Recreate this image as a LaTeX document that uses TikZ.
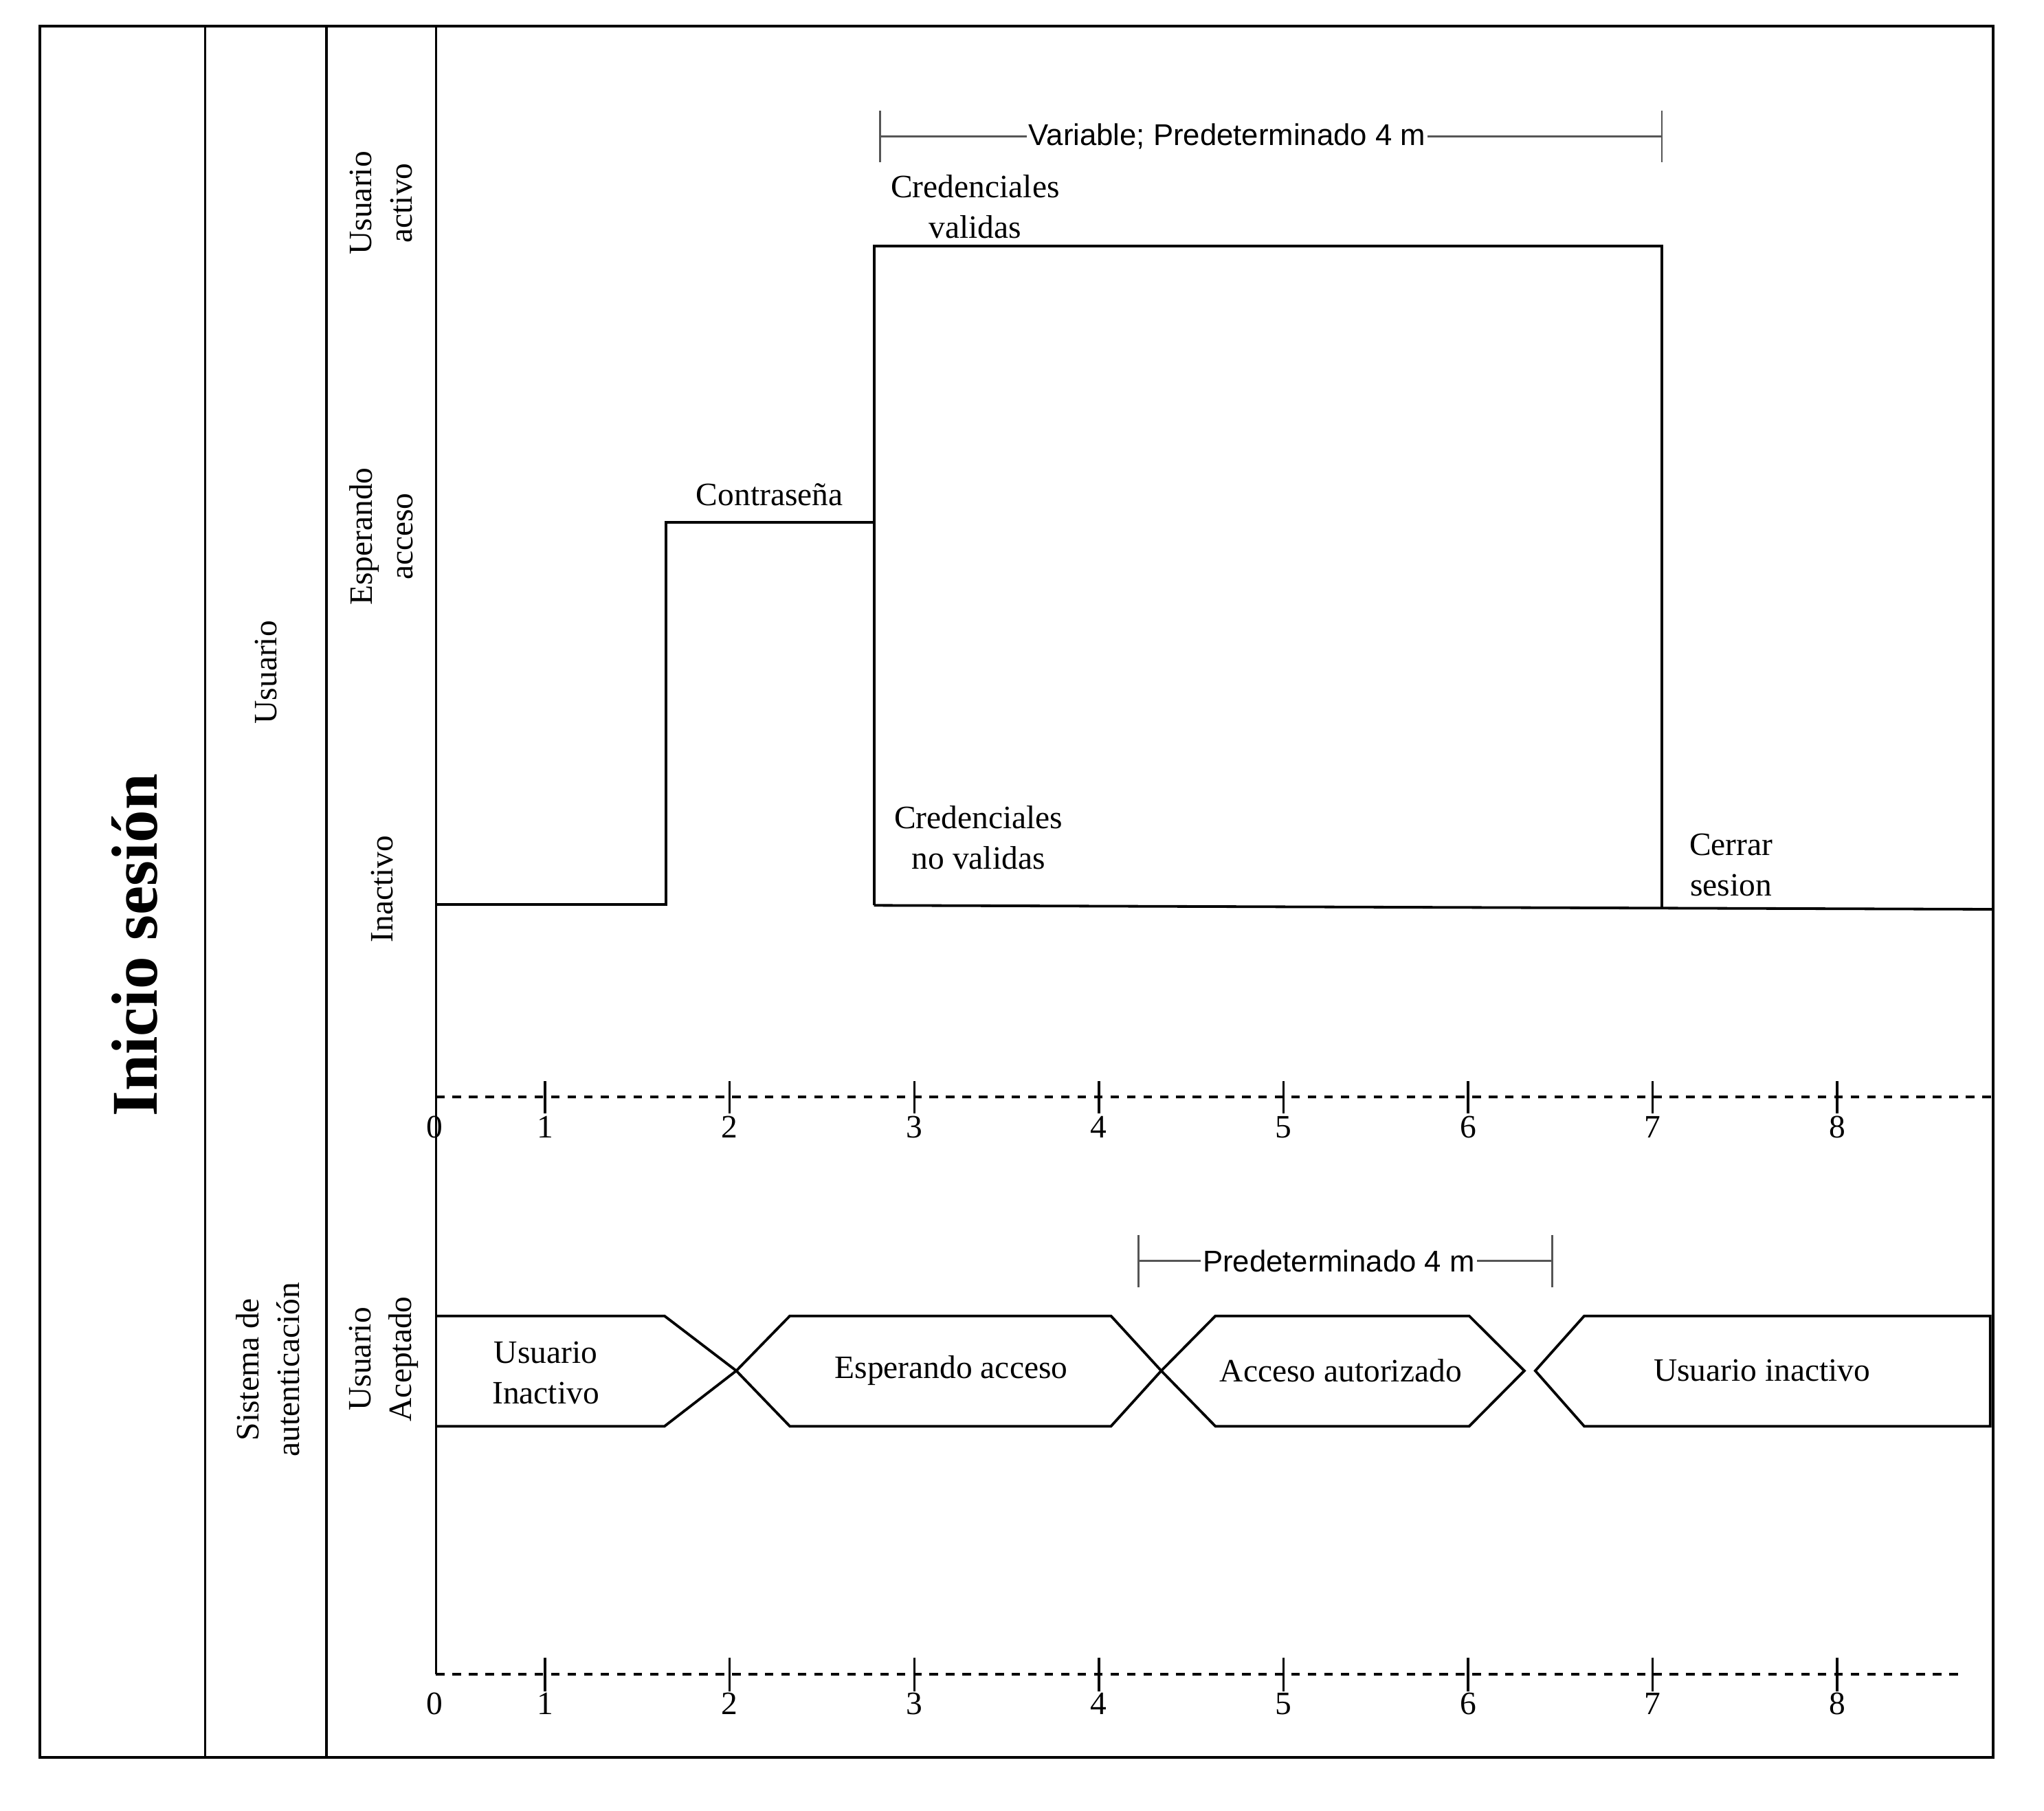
\documentclass[tikz,border=0pt]{standalone}
\usepackage{fontspec}
\setmainfont{Liberation Serif}
\newfontfamily\arialfont{Liberation Sans}
\definecolor{dimgray}{RGB}{85,85,85}
\begin{document}
\begin{tikzpicture}[x=1pt,y=-1pt,
  lbl/.style={font=\fontsize{25}{31}\selectfont, inner sep=0pt, align=center},
  rlbl/.style={lbl, rotate=90},
  title/.style={font=\fontsize{50}{60}\selectfont\bfseries, inner sep=0pt, rotate=90},
  dimlbl/.style={font=\arialfont\fontsize{23}{27}\selectfont, fill=white, inner sep=1.5pt},
  frame/.style={line width=2.1pt},
  col/.style={line width=1.8pt},
  sig/.style={line width=2.0pt, line join=miter},
  axisline/.style={line width=2.1pt, dash pattern=on 6.5pt off 6.1pt},
  tickline/.style={line width=1.8pt},
  dimline/.style={line width=1.5pt, draw=dimgray},
]
\useasboundingbox (0,0) rectangle (1565.7,1387.2);

% frame and columns
\draw[frame] (30.7,20) rectangle (1526.6,1346);
\draw[col] (157,20) -- (157,1346);
\draw[col] (250,20) -- (250,1346);
\coordinate (origT) at (334,840);
\coordinate (origB) at (334,1282.5);
\draw[col] (334,20) -- (origB);

% titles
\node[title] (tit) at (103,724) {Inicio sesión};
\node[rlbl] (usr) at (203.5,515) {Usuario};
\node[rlbl] (sis) at (205,1049) {Sistema de\\autenticación};
\node[rlbl] (lact) at (292,155.5) {Usuario\\activo};
\node[rlbl] (lesp) at (292,411) {Esperando\\acceso};
\node[rlbl] (lina) at (292.5,681) {Inactivo};
\node[rlbl] (lacep) at (294,1041) {Usuario\\Aceptado};

% top axis
\coordinate (axT) at (1526.6,840);
\draw[axisline] (origT) -- (axT);
\node[lbl] (ta0) at (333,863.5) {0};
% bottom axis
\coordinate (axB) at (1503,1282.5);
\draw[axisline] (origB) -- (axB);
\node[lbl] (ba0) at (333,1305) {0};
\foreach \n in {1,...,8} {
  \pgfmathsetmacro\xx{417.5+(\n-1)*141.4}
  \draw[tickline] (\xx,828) -- (\xx,853);
  \node[lbl] (ta\n) at (\xx,863.5) {\n};
  \draw[tickline] (\xx,1269.6) -- (\xx,1295.6);
  \node[lbl] (ba\n) at (\xx,1305) {\n};
}

% user signal
\coordinate (s0) at (334,693);
\coordinate (s1) at (510,693);
\coordinate (s2) at (510,400);
\coordinate (s3) at (669.5,400);
\coordinate (s4) at (669.5,693.5);
\coordinate (s5) at (669.5,188.6);
\coordinate (s6) at (1273,188.6);
\coordinate (s7) at (1273,695);
\coordinate (s8) at (1526.6,696.5);
\draw[sig] (s0) -- (s1) -- (s2) -- (s3);
\draw[sig] (s4) -- (s5) -- (s6) -- (s7);
\draw[sig] (s4) -- (s8);

\node[lbl] (contra) at (589.5,379) {Contraseña};
\node[lbl] (cval) at (747,158.5) {Credenciales\\validas};
\node[lbl] (cnoval) at (749.5,641.7) {Credenciales\\no validas};
\node[lbl] (cerrar) at (1326,662.5) {Cerrar\\sesion};

% dimension top
\coordinate (d1a) at (674,85);  \coordinate (d1b) at (674,124);
\coordinate (d1c) at (1273,85); \coordinate (d1d) at (1273,124);
\coordinate (d1l) at (674,104.6); \coordinate (d1r) at (1273,104.6);
\draw[dimline] (d1a) -- (d1b);
\draw[dimline] (d1c) -- (d1d);
\draw[dimline] (d1l) -- (d1r);
\node[dimlbl] (dimv) at (940,104.6) {Variable; Predeterminado 4 m};

% dimension bottom
\coordinate (d2a) at (872,946);  \coordinate (d2b) at (872,986);
\coordinate (d2c) at (1189,946); \coordinate (d2d) at (1189,986);
\coordinate (d2l) at (872,966); \coordinate (d2r) at (1189,966);
\draw[dimline] (d2a) -- (d2b);
\draw[dimline] (d2c) -- (d2d);
\draw[dimline] (d2l) -- (d2r);
\node[dimlbl] (dimp) at (1025.5,966) {Predeterminado 4 m};

% bus states
\draw[sig] (334,1008) -- (509,1008) -- (564,1050) -- (509,1092.5) -- (334,1092.5);
\draw[sig] (564,1050) -- (605,1008) -- (851,1008) -- (889.5,1050) -- (851,1092.5) -- (605,1092.5) -- cycle;
\draw[sig] (889.5,1050) -- (931,1008) -- (1125.4,1008) -- (1167.6,1050) -- (1125.4,1092.5) -- (931,1092.5) -- cycle;
\draw[sig] (1176,1050) -- (1213.5,1008) -- (1524.5,1008) -- (1524.5,1092.5) -- (1213.5,1092.5) -- cycle;

\node[lbl] (b1) at (418,1051.5) {Usuario\\Inactivo};
\node[lbl] (b2) at (728.6,1050) {Esperando acceso};
\node[lbl] (b3) at (1027,1050) {Acceso autorizado};
\node[lbl] (b4) at (1349.7,1050) {Usuario inactivo};
\end{tikzpicture}
\end{document}
